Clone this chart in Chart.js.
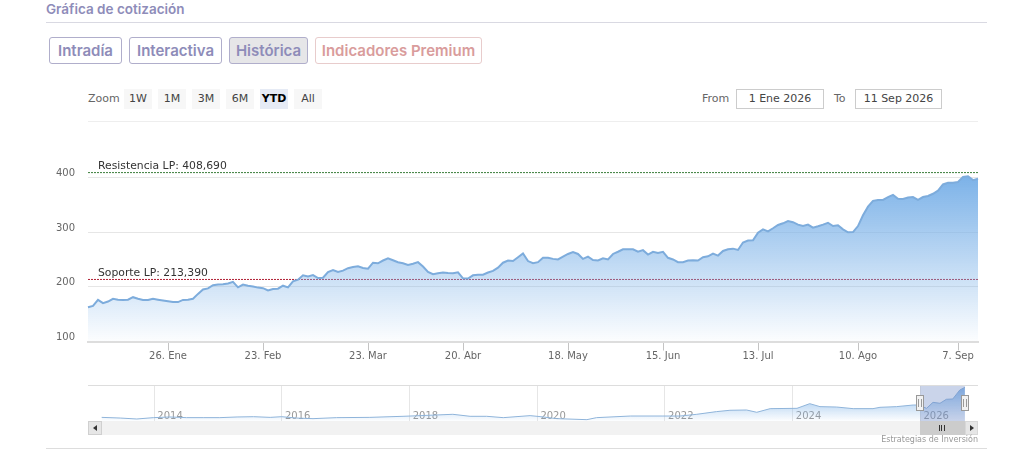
<!DOCTYPE html>
<html>
<head>
<meta charset="utf-8">
<script src="https://cdn.jsdelivr.net/npm/chart.js@4"></script>
<style>
  body { margin: 0; background: #fff; width: 1024px; height: 453px; overflow: hidden; position: relative; font-family: "DejaVu Sans", sans-serif; }
  .abs { position: absolute; box-sizing: border-box; }
  canvas { position: absolute; left: 0; }
  .rule { position: absolute; height: 1px; }
  .title { left: 46px; top: 0; font: 600 13.5px Inter, sans-serif; color: #8e8cb9; line-height: 18px; }
  .tab { top: 37px; height: 27px; border: 1px solid #b0aecb; border-radius: 3px; font: 600 15px Inter, sans-serif; color: #8e8cb9; text-align: center; line-height: 25px; }
  .zb { top: 89px; width: 28px; height: 20px; background: #f7f7f7; font-size: 11px; color: #444; text-align: center; line-height: 19px; }
  .lbl { font-size: 11px; color: #666; line-height: 20px; top: 89px; }
  .inp { top: 89px; height: 20px; border: 1px solid #ccc; font-size: 11px; color: #444; text-align: center; line-height: 18px; }
  .sb { top: 421px; height: 14px; }
</style>
</head>
<body>
<div class="abs title">Gráfica de cotización</div>
<div class="rule" style="left:46px;top:22px;width:941px;background:#d9d9e2"></div>
<div class="abs tab" style="left:49px;width:73px">Intradía</div>
<div class="abs tab" style="left:129px;width:93px">Interactiva</div>
<div class="abs tab" style="left:229px;width:79px;background:#e6e6e8">Histórica</div>
<div class="abs tab" style="left:315px;width:167px;color:#d99c9c;border-color:#e8cccc">Indicadores Premium</div>

<div class="abs lbl" style="left:88px">Zoom</div>
<div class="abs zb" style="left:124px">1W</div>
<div class="abs zb" style="left:158px">1M</div>
<div class="abs zb" style="left:192px">3M</div>
<div class="abs zb" style="left:226px">6M</div>
<div class="abs zb" style="left:260px;background:#e6ebf5;color:#000;font-weight:bold">YTD</div>
<div class="abs zb" style="left:294px">All</div>
<div class="abs lbl" style="left:702px">From</div>
<div class="abs inp" style="left:736px;width:88px">1 Ene 2026</div>
<div class="abs lbl" style="left:834px">To</div>
<div class="abs inp" style="left:855px;width:87px">11 Sep 2026</div>
<div class="rule" style="left:88px;top:121px;width:890px;background:#eeeeee"></div>

<canvas id="mainChart" width="1024" height="375" style="top:0"></canvas>
<canvas id="navChart" width="1024" height="60" style="top:375px"></canvas>

<div class="rule" style="left:88px;top:385px;width:890px;background:#dddddd"></div>
<div class="abs sb" style="left:88px;width:890px;background:#f2f2f2"></div>
<div class="abs sb" style="left:88px;width:14px;background:#e6e6e6;border:1px solid #d0d0d0"></div>
<div class="abs" style="left:93px;top:425px;border:3px solid transparent;border-right:4px solid #333;border-left:0"></div>
<div class="abs sb" style="left:920px;width:45px;background:#cccccc"></div>
<div class="abs" style="left:939px;top:425px;width:6px;height:6px;border-left:1px solid #333;border-right:1px solid #333"></div>
<div class="abs" style="left:941px;top:425px;width:2px;height:6px;border-left:1px solid #333"></div>
<div class="abs sb" style="left:965px;width:13px;background:#e6e6e6;border:1px solid #d8d8d8"></div>
<div class="abs" style="left:970px;top:425px;border:3px solid transparent;border-left:4px solid #333;border-right:0"></div>
<div class="abs" style="right:46px;top:434px;font-size:8px;color:#999;line-height:12px">Estrategias de Inversión</div>
<div class="rule" style="left:46px;top:448px;width:941px;background:#dddddd"></div>

<script>
const resistance = 408.69;
const support = 213.39;
const yTicks = [100, 200, 300, 400];
const tickIndex = [16, 35, 56, 75, 96, 115, 134, 154, 174];
const tickLabels = ['26. Ene', '23. Feb', '23. Mar', '20. Abr', '18. May', '15. Jun', '13. Jul', '10. Ago', '7. Sep'];

// daily close, 2 Ene to 11 Sep
const price = [
  162.5, 165, 176, 170, 173, 178, 176.5, 176, 176.5, 181,
  178, 176, 176, 178, 176.5, 175, 173.5, 172, 172, 176,
  176.5, 178, 187, 195, 197, 203, 204, 204.5, 206, 209,
  199, 204, 202, 200.5, 198.5, 197.5, 193.5, 196, 196.5, 202,
  199, 210, 213, 221, 219, 221.5, 216, 216.5, 227, 230.7,
  227, 229.5, 234, 236, 237.4, 234.4, 233, 244, 243, 248,
  252, 248.4, 245, 243, 240, 242, 245, 237, 227, 223,
  224.6, 226, 225, 224.6, 226.5, 215.5, 215, 221, 222, 222,
  226, 229, 235, 244, 248, 247, 254, 261, 247, 243,
  245, 253, 253, 251, 250, 255, 260, 263.6, 260, 251,
  255, 249, 248, 252, 250, 260, 264, 268.5, 268.5, 268.5,
  264, 267, 259, 264, 262, 264, 253, 250, 245, 245,
  248, 248.4, 248, 254, 255.7, 260.6, 257, 265.5, 268.5, 269.7,
  267.3, 281, 284.5, 285, 299, 305, 301.4, 307, 313, 316,
  320, 318, 313.6, 311, 313.6, 308, 310.6, 313.6, 317, 311,
  312.5, 305, 299.6, 300, 311, 330.7, 346.5, 357, 358.8, 358.8,
  364, 368, 361, 360.5, 363, 364, 358.8, 364, 366, 370,
  375.7, 387, 390, 390, 391.6, 400.7, 402, 395, 397.6
];

// navigator: whole history
const navYears = [
  2013.18, 2013.47, 2013.73, 2013.99, 2014.25, 2014.51, 2014.77, 2015.03, 2015.3, 2015.56,
  2015.82, 2016.0, 2016.23, 2016.49, 2016.86, 2017.38, 2017.9, 2018.17, 2018.43, 2018.68,
  2018.95, 2019.21, 2019.47, 2019.89, 2020.06, 2020.31, 2020.78, 2020.93, 2021.46, 2021.97,
  2022.24, 2022.5, 2022.81, 2023.02, 2023.28, 2023.44, 2023.65, 2024.07, 2024.27, 2024.43,
  2024.69, 2024.95, 2025.26, 2025.37, 2025.63, 2025.89, 2025.97, 2026.1, 2026.2, 2026.31,
  2026.41, 2026.51, 2026.62, 2026.7
];
const navValues = [
  83, 76, 66, 80, 87, 80, 80, 80, 87, 90,
  83, 90, 76, 69.5, 80, 83, 94, 101, 108, 115,
  94, 94, 80, 101, 90, 69.5, 59, 80, 97, 97,
  97, 115, 143, 157, 160, 136, 174, 177.5, 226, 195,
  191, 174, 174, 188, 195, 212, 212, 177.5, 240, 230,
  272, 275, 369, 397
];
const navTicks = [2014, 2016, 2018, 2020, 2022, 2024, 2026];
const navFrom = 2026.0;
const navTo = 2026.7;

function areaGradient(context, topValue, topAlpha) {
  const { chart } = context;
  if (!chart.chartArea) return 'rgba(124,178,232,0.5)';
  const top = chart.scales.y.getPixelForValue(topValue);
  const g = chart.ctx.createLinearGradient(0, top, 0, chart.chartArea.bottom);
  g.addColorStop(0, `rgba(124,178,232,${topAlpha})`);
  g.addColorStop(1, 'rgba(124,178,232,0.02)');
  return g;
}

const levelLabels = {
  id: 'levelLabels',
  afterDatasetsDraw(chart) {
    const { ctx, scales } = chart;
    ctx.save();
    ctx.font = '10.8px "DejaVu Sans"';
    ctx.fillStyle = '#333';
    ctx.textBaseline = 'bottom';
    ctx.fillText('Resistencia LP: 408,690', 98, scales.y.getPixelForValue(resistance) - 1);
    ctx.fillText('Soporte LP: 213,390', 98, scales.y.getPixelForValue(support) - 1);
    ctx.restore();
  }
};

new Chart(document.getElementById('mainChart'), {
  type: 'line',
  plugins: [levelLabels],
  data: {
    labels: price.map((_, i) => i),
    datasets: [
      {
        data: price,
        borderColor: '#7dacdc',
        borderWidth: 2,
        pointRadius: 0,
        tension: 0,
        fill: 'start',
        backgroundColor: c => areaGradient(c, 402, 1)
      },
      { data: price.map(() => resistance), borderColor: '#3a7d3a', borderWidth: 1, borderDash: [2, 1], pointRadius: 0 },
      { data: price.map(() => support), borderColor: '#b02035', borderWidth: 1, borderDash: [2, 1], pointRadius: 0 }
    ]
  },
  options: {
    responsive: false,
    animation: false,
    layout: { padding: { top: 150, left: 0, right: 46, bottom: 0 } },
    plugins: { legend: { display: false }, tooltip: { enabled: false } },
    scales: {
      x: {
        afterFit: s => { s.height = 33.5; },
        afterBuildTicks: s => { s.ticks = tickIndex.map(value => ({ value })); },
        grid: { drawOnChartArea: false, tickLength: 9, tickWidth: 1, tickColor: '#c4c4c4' },
        border: { color: '#dddddd', width: 2 },
        ticks: {
          autoSkip: false,
          maxRotation: 0,
          padding: 0,
          color: '#666',
          font: { family: '"DejaVu Sans"', size: 10 },
          callback: v => tickLabels[tickIndex.indexOf(v)]
        }
      },
      y: {
        min: 100,
        max: 450,
        afterFit: s => { s.width = 88; },
        afterBuildTicks: s => { s.ticks = yTicks.map(value => ({ value })); },
        grid: { color: '#e6e6e6', drawTicks: false },
        border: { display: false },
        ticks: {
          padding: 13,
          labelOffset: -4,
          color: '#666',
          font: { family: '"DejaVu Sans"', size: 10 }
        }
      }
    }
  }
});

const navMask = {
  id: 'navMask',
  afterDatasetsDraw(chart) {
    const { ctx, scales, chartArea } = chart;
    const a = scales.x.getPixelForValue(navFrom);
    const b = scales.x.getPixelForValue(navTo);
    ctx.save();
    ctx.fillStyle = 'rgba(102,133,194,0.35)';
    ctx.fillRect(a, chartArea.top, b - a, chartArea.bottom - chartArea.top);
    [a, b].forEach(x => {
      ctx.fillStyle = '#f2f2f2';
      ctx.strokeStyle = '#999';
      ctx.fillRect(Math.round(x) - 3.5, 20.5, 7, 15);
      ctx.strokeRect(Math.round(x) - 3.5, 20.5, 7, 15);
      ctx.beginPath();
      ctx.moveTo(Math.round(x) - 1.5, 24);
      ctx.lineTo(Math.round(x) - 1.5, 32);
      ctx.moveTo(Math.round(x) + 1.5, 24);
      ctx.lineTo(Math.round(x) + 1.5, 32);
      ctx.stroke();
    });
    ctx.restore();
  }
};

new Chart(document.getElementById('navChart'), {
  type: 'line',
  plugins: [navMask],
  data: {
    datasets: [{
      data: navYears.map((x, i) => ({ x, y: navValues[i] })),
      borderColor: '#8fb4da',
      borderWidth: 1,
      pointRadius: 0,
      tension: 0,
      fill: 'start',
      backgroundColor: c => areaGradient(c, 400, 0.9)
    }]
  },
  options: {
    responsive: false,
    animation: false,
    layout: { padding: { top: 10, left: 88, right: 46, bottom: 14 } },
    plugins: { legend: { display: false }, tooltip: { enabled: false } },
    scales: {
      x: {
        type: 'linear',
        min: 2012.966,
        max: 2026.905,
        afterFit: s => { s.height = 0; },
        afterBuildTicks: s => { s.ticks = navTicks.map(value => ({ value })); },
        grid: { color: '#e6e6e6', drawTicks: false },
        border: { display: false },
        ticks: {
          mirror: true,
          padding: -1.5,
          labelOffset: 16,
          maxRotation: 0,
          color: '#999',
          font: { family: '"DejaVu Sans"', size: 10 },
          callback: v => String(v)
        }
      },
      y: { display: false, min: 45, max: 421 }
    }
  }
});
</script>
</body>
</html>
